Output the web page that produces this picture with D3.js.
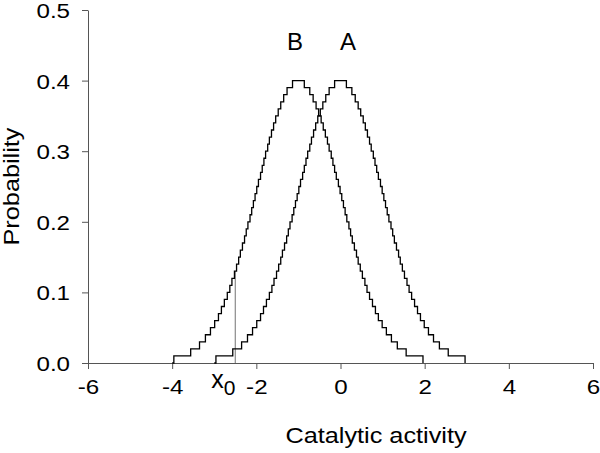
<!DOCTYPE html>
<html>
<head>
<meta charset="utf-8">
<script src="https://cdn.jsdelivr.net/npm/d3@7"></script>
<style>
  body { margin: 0; background: #fff; }
  text { font-family: "Liberation Sans", Arial, sans-serif; fill: #000; }
</style>
</head>
<body>
<svg width="600" height="453"></svg>
<script>
// step levels shared by both curves (rise 0 -> 0.40, then fall back to 0)
const probs = [0,
    0.01, 0.02, 0.03, 0.04, 0.05, 0.06, 0.07, 0.08, 0.09, 0.10,
    0.11, 0.12, 0.13, 0.14, 0.15, 0.16, 0.17, 0.18, 0.19, 0.20,
    0.21, 0.22, 0.23, 0.24, 0.25, 0.26, 0.27, 0.28, 0.29, 0.30,
    0.31, 0.32, 0.33, 0.34, 0.35, 0.36, 0.37, 0.38, 0.39, 0.40,
    0.39, 0.38, 0.37, 0.36, 0.35, 0.34, 0.33, 0.32, 0.31, 0.30,
    0.29, 0.28, 0.27, 0.26, 0.25, 0.24, 0.23, 0.22, 0.21, 0.20,
    0.19, 0.18, 0.17, 0.16, 0.15, 0.14, 0.13, 0.12, 0.11, 0.10,
    0.09, 0.08, 0.07, 0.06, 0.05, 0.04, 0.03, 0.02, 0.01, 0.00];

// x positions where curve A steps
const stepsA = [-3.00,
    -2.96, -2.56, -2.35, -2.21, -2.09, -1.99, -1.90, -1.83, -1.76, -1.69,
    -1.63, -1.58, -1.52, -1.47, -1.42, -1.38, -1.33, -1.28, -1.24, -1.20,
    -1.15, -1.11, -1.07, -1.03, -0.99, -0.95, -0.90, -0.86, -0.82, -0.78,
    -0.73, -0.69, -0.64, -0.59, -0.54, -0.48, -0.42, -0.35, -0.27, -0.14,
    0.14, 0.27, 0.35, 0.42, 0.48, 0.54, 0.59, 0.64, 0.69, 0.73,
    0.78, 0.82, 0.86, 0.90, 0.95, 0.99, 1.03, 1.07, 1.11, 1.15,
    1.20, 1.24, 1.28, 1.33, 1.38, 1.42, 1.47, 1.52, 1.58, 1.63,
    1.69, 1.76, 1.83, 1.90, 1.99, 2.09, 2.21, 2.35, 2.56, 2.96];

// x positions where curve B steps
const stepsB = [-4.00,
    -3.96, -3.56, -3.35, -3.21, -3.09, -2.99, -2.90, -2.83, -2.76, -2.69,
    -2.63, -2.58, -2.52, -2.47, -2.42, -2.38, -2.33, -2.28, -2.24, -2.20,
    -2.15, -2.11, -2.07, -2.03, -1.99, -1.95, -1.90, -1.86, -1.82, -1.78,
    -1.73, -1.69, -1.64, -1.59, -1.54, -1.48, -1.42, -1.35, -1.27, -1.14,
    -0.86, -0.73, -0.65, -0.58, -0.52, -0.46, -0.41, -0.36, -0.31, -0.27,
    -0.22, -0.18, -0.14, -0.10, -0.05, -0.01, 0.03, 0.07, 0.11, 0.15,
    0.20, 0.24, 0.28, 0.33, 0.38, 0.42, 0.47, 0.52, 0.58, 0.63,
    0.69, 0.76, 0.83, 0.90, 0.99, 1.09, 1.21, 1.35, 1.56, 1.96];

const xTicks = [-6, -4, -2, 0, 2, 4, 6];
const yTicks = [0, 0.1, 0.2, 0.3, 0.4, 0.5];
const curveLabels = [
    { name: 'B', x: -1.08, y: 0.443 },
    { name: 'A', x: 0.18, y: 0.443 }
];
const x0 = { x: -2.5, y: 0.13 };

const MARGIN = { left: 88, right: 7, top: 10, bottom: 90 };
const WIDTH = 600, HEIGHT = 453;
const STRETCH = 1.15;   // labels in the source are a bit wider than Arial

const x = d3.scaleLinear().domain([-6, 6]).range([MARGIN.left, WIDTH - MARGIN.right]);
const y = d3.scaleLinear().domain([0, 0.5]).range([HEIGHT - MARGIN.bottom, MARGIN.top]);

const svg = d3.select('svg');

const line = d3.line()
    .x(d => x(d[0]))
    .y(d => y(d[1]))
    .curve(d3.curveStepAfter);

// x0 marker
svg.append('line')
    .attr('x1', x(x0.x)).attr('x2', x(x0.x))
    .attr('y1', y(0)).attr('y2', y(x0.y))
    .attr('stroke', '#8a8a8a')
    .attr('stroke-width', 1.2);

const xAxis = svg.append('g')
    .attr('transform', `translate(0, ${y(0)})`)
    .call(d3.axisBottom(x).tickValues(xTicks).tickFormat(d => String(d))
        .tickSize(6).tickSizeOuter(0).tickPadding(10));

const yAxis = svg.append('g')
    .attr('transform', `translate(${x(-6)}, 0)`)
    .call(d3.axisLeft(y).tickValues(yTicks).tickFormat(d => d.toFixed(1))
        .tickSize(6).tickSizeOuter(0).tickPadding(12));

[xAxis, yAxis].forEach(ax => {
    ax.selectAll('path, line').attr('stroke', '#555').attr('stroke-width', 1);
    ax.selectAll('text').attr('font-size', 21).attr('fill', '#000')
        .style('font-family', '"Liberation Sans", Arial, sans-serif')
        .attr('transform', `scale(${STRETCH},1)`);
});
yAxis.selectAll('text').attr('x', -18 / STRETCH).attr('dy', '0.36em');

[stepsA, stepsB].forEach(steps => {
    svg.append('path')
        .datum(steps.map((s, i) => [s, probs[i]]))
        .attr('d', line)
        .attr('fill', 'none')
        .attr('stroke', '#000')
        .attr('stroke-width', 1.3);
});

svg.selectAll('.clabel')
    .data(curveLabels)
    .enter()
    .append('text')
    .classed('clabel', true)
    .attr('x', d => x(d.x))
    .attr('y', d => y(d.y))
    .attr('text-anchor', 'middle')
    .attr('font-size', 24)
    .text(d => d.name);

const x0Label = svg.append('text')
    .attr('x', x(x0.x) - 24)
    .attr('y', 388)
    .attr('font-size', 25);
x0Label.append('tspan').text('x');
x0Label.append('tspan').attr('dy', 7).attr('font-size', 21).text('0');

svg.append('text')
    .attr('transform', `translate(376, 443) scale(${STRETCH},1)`)
    .attr('text-anchor', 'middle')
    .attr('font-size', 22)
    .text('Catalytic activity');

svg.append('text')
    .attr('transform', `translate(19, ${y(0.25)}) rotate(-90) scale(${STRETCH},1)`)
    .attr('text-anchor', 'middle')
    .attr('font-size', 22)
    .text('Probability');
</script>
</body>
</html>
